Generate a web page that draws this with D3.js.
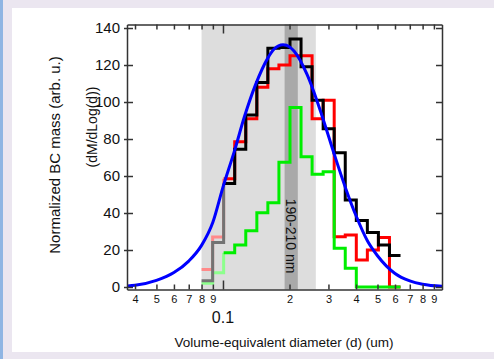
<!DOCTYPE html>
<html>
<head>
<meta charset="utf-8">
<script src="https://cdn.jsdelivr.net/npm/d3@7"></script>
<style>
  body { margin: 0; background: #ebe6f0; }
  svg { display: block; }
  text { font-family: "Liberation Sans", Arial, sans-serif; fill: #111; }
</style>
</head>
<body>
<div id="chart"></div>
<script>
// bin edges (um), log spaced
const binEdges = [0.0800, 0.0898, 0.1007, 0.1130, 0.1268, 0.1423, 0.1596, 0.1791, 0.2010,
    0.2255, 0.2530, 0.2839, 0.3185, 0.3574, 0.4010, 0.4499, 0.5048, 0.5664, 0.6355];

// values per bin
const blackValues = [3.4, 24, 56, 74.5, 93, 110.5, 129, 129.5, 134, 119, 101, 85.5, 72.6, 47, 36, 29.4, 22.7, 17];
const redValues   = [9.5, 27, 58.5, 78.5, 91, 108, 118, 120, 125, 125, 91, 101, 27.2, 28.1, 14.6, 20, 26.8, 0];
const greenValues = [2, 7.7, 18.5, 22.7, 30.4, 40.2, 45.6, 67.4, 97, 70.4, 61, 62.3, 20.9, 10.1, 0, 0, 0, 0];

// blue fit curve
const fitD = [0.037, 0.04, 0.05, 0.06, 0.07, 0.08, 0.09, 0.1, 0.113, 0.125, 0.14, 0.16, 0.17, 0.187, 0.2, 0.21,
    0.24, 0.28, 0.32, 0.36, 0.4, 0.45, 0.5, 0.6, 0.7, 0.8, 0.979];
const fitValues = [0.5, 0.9, 3.6, 7.8, 14, 22.5, 35, 54, 74, 92, 109, 124, 128.5, 131, 129.8, 127.4,
    114.9, 92.9, 71.1, 52.9, 38.5, 25, 16.9, 7.3, 3.3, 1.5, 0.4];

// shaded ranges
const wideRange = [0.08, 0.263];
const bandRange = [0.19, 0.218];
const bandLabel = "190-210 nm";

const xTicks = [0.04, 0.05, 0.06, 0.07, 0.08, 0.09, 0.1, 0.2, 0.3, 0.4, 0.5, 0.6, 0.7, 0.8, 0.9];
const xTickLabels = ["4", "5", "6", "7", "8", "9", "", "2", "3", "4", "5", "6", "7", "8", "9"];
const yTicks = [0, 20, 40, 60, 80, 100, 120, 140];

const width = 494, height = 359;
const plotLeft = 127, plotRight = 442, plotTop = 24.5, plotBottom = 289.5;

const svg = d3.select("#chart").append("svg")
    .attr("width", width)
    .attr("height", height);

// window frame
svg.append("rect").attr("width", width).attr("height", height).attr("fill", "#ebe6f0");
svg.append("rect").attr("x", 12).attr("y", 8).attr("width", width - 12).attr("height", 344).attr("fill", "#fff");
svg.append("rect").attr("x", 0).attr("y", 0).attr("width", 3).attr("height", height).attr("fill", "#8fb5e3");

const x = d3.scaleLog().domain([0.0368, 0.979]).range([plotLeft, plotRight]);
const y = d3.scaleLinear().domain([-1.35, 141.9]).range([plotBottom, plotTop]);

// gray ranges
svg.append("rect")
    .attr("x", x(wideRange[0])).attr("y", plotTop)
    .attr("width", x(wideRange[1]) - x(wideRange[0])).attr("height", plotBottom - plotTop)
    .attr("fill", "#dddddd");
svg.append("rect")
    .attr("x", x(bandRange[0])).attr("y", plotTop)
    .attr("width", x(bandRange[1]) - x(bandRange[0])).attr("height", plotBottom - plotTop)
    .attr("fill", "#a9a9a9");

const bandX = (x(bandRange[0]) + x(bandRange[1])) / 2;
svg.append("text")
    .attr("transform", `translate(${bandX},236) rotate(90)`)
    .attr("text-anchor", "middle")
    .attr("dy", "0.35em")
    .style("font-size", "14px")
    .text(bandLabel);

// histograms
const step = d3.line().x(d => x(d[0])).y(d => y(d[1])).curve(d3.curveStepAfter);

function drawHist(values, paleColor, color) {
    const pale = [[binEdges[0], values[0]], [binEdges[1], values[1]], [binEdges[2], values[2]]];
    const main = values.slice(2).map((v, i) => [binEdges[i + 2], v]);
    main.push([binEdges[binEdges.length - 1], values[values.length - 1]]);
    svg.append("path").attr("d", step(pale))
        .attr("fill", "none").attr("stroke", paleColor).attr("stroke-width", 3);
    svg.append("path").attr("d", step(main))
        .attr("fill", "none").attr("stroke", color).attr("stroke-width", 3);
}

drawHist(redValues, "#ff8a8a", "#ff0000");
drawHist(greenValues, "#8cff8c", "#00ee00");
drawHist(blackValues, "#737373", "#000000");

// fit curve
svg.append("path")
    .datum(fitD.map((d, i) => [d, fitValues[i]]))
    .attr("d", d3.line().x(d => x(d[0])).y(d => y(d[1])).curve(d3.curveMonotoneX))
    .attr("fill", "none")
    .attr("stroke", "#0000ff")
    .attr("stroke-width", 3);

// axes
const axisColor = "#333";
const xb = svg.append("g")
    .attr("transform", `translate(0,${plotBottom})`)
    .call(d3.axisBottom(x).tickValues(xTicks).tickSize(-5).tickSizeOuter(0).tickPadding(6)
        .tickFormat((d, i) => xTickLabels[i]));
const xt = svg.append("g")
    .attr("transform", `translate(0,${plotTop})`)
    .call(d3.axisTop(x).tickValues(xTicks).tickSize(-5).tickSizeOuter(0).tickFormat(""));
xb.selectAll(".tick line").filter(d => d === 0.1).attr("y2", -9);
xt.selectAll(".tick line").filter(d => d === 0.1).attr("y2", 9);

const yl = svg.append("g")
    .attr("transform", `translate(${plotLeft},0)`)
    .call(d3.axisLeft(y).tickValues(yTicks).tickSize(-6).tickSizeOuter(0).tickPadding(7));
yl.selectAll(".tick line").attr("x1", -3);
svg.append("g")
    .attr("transform", `translate(${plotRight},0)`)
    .call(d3.axisRight(y).tickValues(yTicks).tickSize(-6).tickSizeOuter(0).tickFormat(""));

svg.selectAll(".domain").attr("stroke", axisColor).attr("stroke-width", 1.5);
svg.selectAll(".tick line").attr("stroke", axisColor).attr("stroke-width", 1.5);
xb.selectAll("text").style("font-size", "11px").attr("fill", "#111");
yl.selectAll("text").style("font-size", "15px").attr("fill", "#111");

svg.append("text")
    .attr("x", x(0.1)).attr("y", 323)
    .attr("text-anchor", "middle")
    .style("font-size", "16px")
    .text("0.1");

// titles
svg.append("text")
    .attr("x", 284).attr("y", 347)
    .attr("text-anchor", "middle")
    .style("font-size", "13.5px")
    .text("Volume-equivalent diameter (d) (um)");

svg.append("text")
    .attr("transform", "translate(60,155) rotate(-90)")
    .attr("text-anchor", "middle")
    .style("font-size", "15px")
    .text("Normalized BC mass (arb. u.)");

svg.append("text")
    .attr("transform", "translate(97,127) rotate(-90)")
    .attr("text-anchor", "middle")
    .style("font-size", "14px")
    .text("(dM/dLog(d))");
</script>
</body>
</html>
